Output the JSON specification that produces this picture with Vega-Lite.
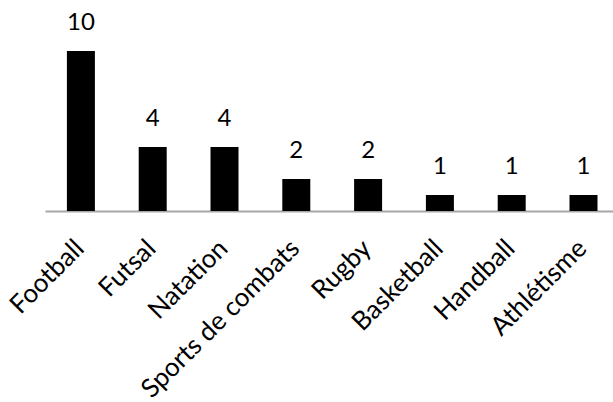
{
  "$schema": "https://vega.github.io/schema/vega-lite/v6.json",
  "autosize": "none",
  "width": 568,
  "height": 160,
  "padding": {"left": 45, "top": 51, "right": 0, "bottom": 191},
  "background": "white",
  "config": {"view": {"stroke": null}, "font": "Lato"},
  "data": {"values": [
    {"sport": "Football", "n": 10},
    {"sport": "Futsal", "n": 4},
    {"sport": "Natation", "n": 4},
    {"sport": "Sports de combats", "n": 2},
    {"sport": "Rugby", "n": 2},
    {"sport": "Basketball", "n": 1},
    {"sport": "Handball", "n": 1},
    {"sport": "Athlétisme", "n": 1}
  ]},
  "encoding": {
    "x": {"field": "sport", "type": "nominal", "sort": null,
      "scale": {"range": [0, 574.4], "paddingInner": 0.61, "paddingOuter": 0.305},
      "axis": {"title": null, "ticks": false, "domainColor": "#a6a6a6", "domainWidth": 2,
        "labelAngle": -45, "labelFontSize": 26, "labelColor": "#000000", "labelFont": "Lato",
        "labelBaseline": "middle", "labelAlign": "right", "labelPadding": 33, "labelOffset": -1,
        "labelLimit": 0, "labelOverlap": false}},
    "y": {"field": "n", "type": "quantitative", "scale": {"domain": [0, 10]}, "axis": null}
  },
  "layer": [
    {"mark": {"type": "bar", "color": "#000000"}},
    {"mark": {"type": "text", "baseline": "alphabetic", "dy": -21, "fontSize": 24, "color": "#000000", "font": "Lato"},
      "encoding": {"text": {"field": "n", "type": "quantitative"}}}
  ]
}
